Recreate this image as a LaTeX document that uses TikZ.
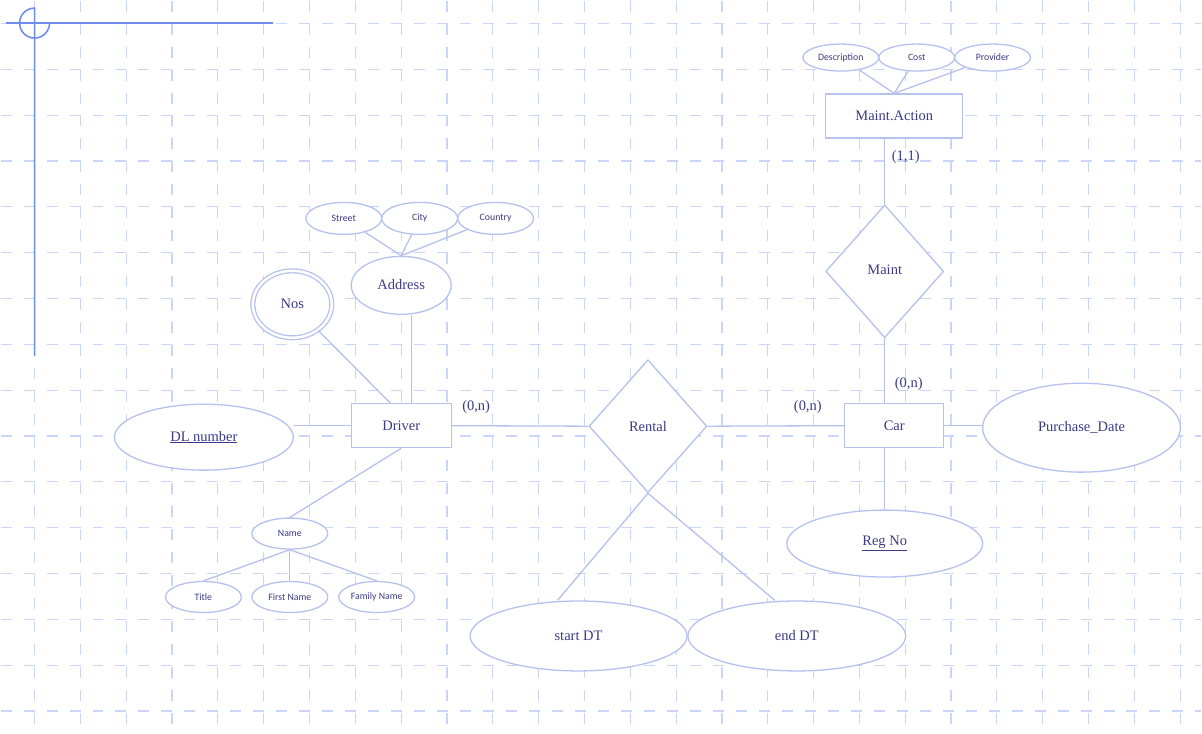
\documentclass[tikz,border=0pt]{standalone}
\usepackage{fontspec}
\setmainfont{Liberation Serif}
\newfontfamily\smallfont{Carlito}
\usepackage{xcolor}
\usepackage{tikz}
\usetikzlibrary{shapes.geometric}

\definecolor{erline}{RGB}{182,193,238}
\definecolor{ertext}{RGB}{58,58,135}
\definecolor{gridblue}{RGB}{202,213,250}
\definecolor{rulerblue}{RGB}{112,140,240}

\begin{document}
\begin{tikzpicture}[x=1pt, y=-1pt, node distance=76pt,
  font=\fontsize{14.5}{17}\selectfont, text=ertext,
  base/.style={draw=erline, line width=1.3pt, fill=white, inner sep=0pt},
  entity/.style={base, rectangle, minimum height=44pt},
  rel/.style={base, diamond, minimum width=118pt, minimum height=133pt},
  attr/.style={base, ellipse},
  subattr/.style={attr, minimum width=76pt, minimum height=31pt,
    font=\smallfont\fontsize{9.8}{11}\selectfont},
  link/.style={draw=erline, line width=1.3pt},
  gridline/.style={draw=gridblue, line width=1.2pt, dash pattern=on 11pt off 12pt},
  ruler/.style={draw=rulerblue, line width=1.6pt}]

  \fill[white] (0,0) rectangle (1202,733);
  \foreach \i in {0,...,25}
    \draw[gridline] ({34+45.87*\i},0) -- ({34+45.87*\i},733);
  \foreach \j in {0,...,15}
    \draw[gridline] (0,{23+45.87*\j}) -- (1202,{23+45.87*\j});

  \draw[ruler] (5,22.5) -- (273,22.5);
  \draw[ruler] (34,356) -- (34,7.5) arc[start angle=270, end angle=0, radius=15];

  \node[entity, minimum width=137pt] (action) at (894.5,115.5) {Maint.Action};
  \node[subattr, minimum height=27pt] (descr) at (841,57) {Description};
  \node[subattr, minimum height=27pt, right of=descr] (cost) {Cost};
  \node[subattr, minimum height=27pt, right of=cost] (provider) {Provider};
  \node[rel] (maint) at (885,271) {\raisebox{4pt}{Maint}};
  \node[entity, minimum width=99pt] (car) at (894.5,425.5) {Car};
  \node[attr, minimum width=198pt, minimum height=89pt] (purchase) at (1082,427.5) {Purchase\_Date};
  \node[attr, minimum width=196pt, minimum height=67pt] (regno) at (885,543.5) {\underline{Reg No}};
  \node[rel] (rental) at (648,426) {Rental};
  \node[attr, minimum width=217pt, minimum height=70pt] (startdt) at (578.5,636) {start DT};
  \node[attr, minimum width=218pt, minimum height=70pt] (enddt) at (797,636) {end DT};
  \node[entity, minimum width=100pt] (driver) at (401,425.5) {Driver};
  \node[attr, minimum width=179pt, minimum height=66pt] (dlnum) at (203.5,437) {\underline{DL number}};
  \node[attr, double=white, double distance=2.5pt, minimum width=79pt,
    minimum height=67pt] (nos) at (292,304) {Nos};
  \node[attr, minimum width=100pt, minimum height=58pt] (address) at (401,285) {\raisebox{2pt}{Address}};
  \node[subattr, minimum height=32pt] (street) at (343.5,218) {Street};
  \node[subattr, minimum height=32pt, right of=street] (city) {City};
  \node[subattr, minimum height=32pt, right of=city] (country) {Country};
  \node[subattr] (name) at (289.5,533.5) {Name};
  \node[subattr] (title) at (203,597) {Title};
  \node[subattr, node distance=86.5pt, right of=title] (firstname) {First Name};
  \node[subattr, node distance=87pt, right of=firstname] (familyname) {Family Name};

  \draw[link] (descr) -- (action.north);
  \draw[link] (cost) -- (action.north);
  \draw[link] (provider) -- (action.north);
  \draw[link] (maint.north) -- (maint.north |- action.south);
  \draw[link] (maint.south) -- (maint.south |- car.north);
  \draw[link] (regno.north) -- (regno.north |- car.south);
  \draw[link] (car.east) -- (car.east -| purchase.west);
  \draw[link] (rental.east) -- (car.west);
  \draw[link] (driver.east) -- (rental.west);
  \draw[link] (rental.south) -- ([xshift=-21pt]startdt.north);
  \draw[link] (rental.south) -- ([xshift=-22pt]enddt.north);
  \draw[link] (driver.west) -- (driver.west -| dlnum.east);
  \draw[link] (nos) -- ([xshift=-11pt]driver.north);
  \draw[link] ([xshift=10pt]address.south) -- ([xshift=10pt]driver.north);
  \draw[link] (street) -- (address.north);
  \draw[link] (city) -- (address.north);
  \draw[link] (country) -- (address.north);
  \draw[link] (driver.south) -- (name.north);
  \draw[link] (name.south) -- (title.north);
  \draw[link] (name.south) -- (firstname.north);
  \draw[link] (name.south) -- (familyname.north);

  \node (carddriver) at (476,407) {(0,n)};
  \node (cardcar) at (808,407) {(0,n)};
  \node (cardaction) at (906,157) {(1,1)};
  \node (cardmaint) at (909,384) {(0,n)};
\end{tikzpicture}
\end{document}
